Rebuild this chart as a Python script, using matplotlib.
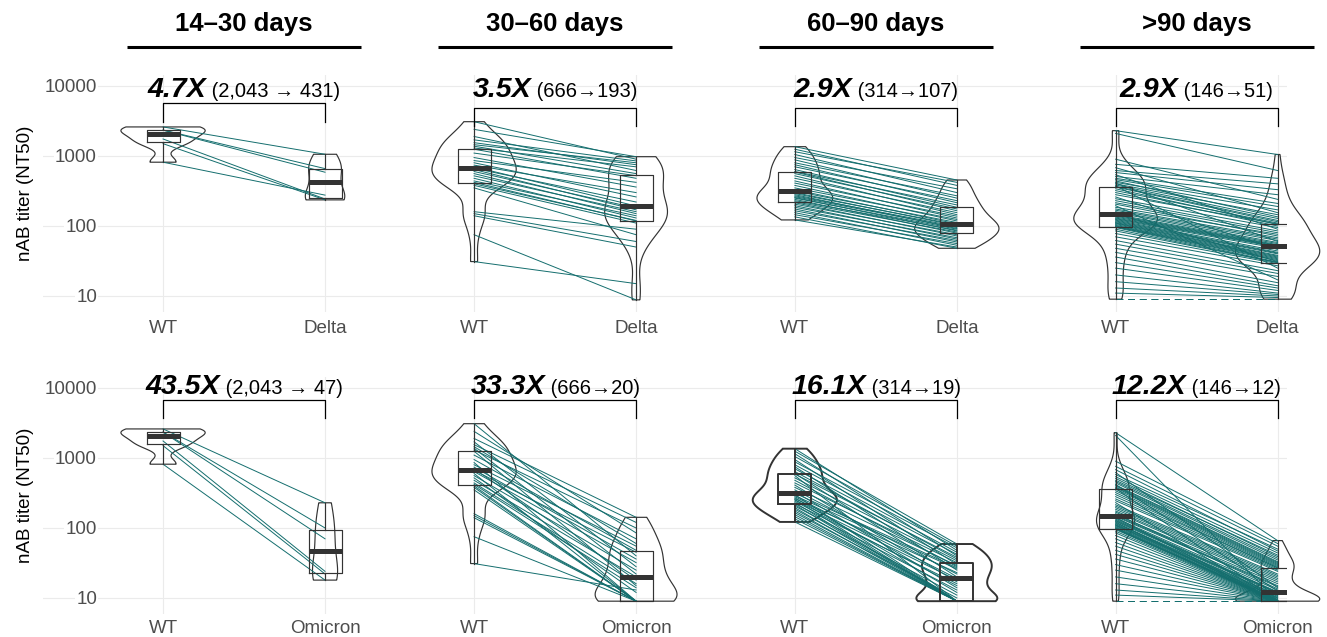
import numpy as np
import matplotlib
matplotlib.use("Agg")
import matplotlib.pyplot as plt
from matplotlib.ticker import NullLocator
from matplotlib.transforms import blended_transform_factory

plt.rcParams['font.family'] = ['Liberation Sans', 'DejaVu Sans']

# ---------------- data: paired NT50 titers, one list entry per subject ----------------
periods = ["14–30 days", "30–60 days", "60–90 days", ">90 days"]
variant_names = ["Delta", "Omicron"]

wt = [
    [2600, 2350, 2336, 1750, 1500, 815],
    [3090, 2400, 1900, 1700, 1550, 1450, 1380, 1300, 1250, 1100, 950, 860, 800, 740, 700, 666,
     640, 600, 560, 520, 480, 440, 420, 400, 380, 350, 160, 150, 140, 75, 31],
    [1358, 1250, 1150, 1050, 950, 880, 800, 750, 700, 640, 600, 590, 560, 520, 480, 440, 410,
     380, 350, 330, 314, 300, 290, 280, 270, 262, 255, 250, 240, 230, 222, 215, 205, 195, 185,
     175, 165, 155, 145, 135, 122],
    [2300, 2100, 900, 760, 680, 620, 580, 540, 510, 480, 460, 440, 420, 410, 400, 385, 375, 368,
     360, 340, 320, 300, 280, 260, 245, 230, 215, 205, 195, 185, 175, 168, 160, 155, 150, 146,
     142, 138, 134, 130, 127, 124, 121, 118, 115, 112, 110, 108, 105, 102, 100, 98, 97, 95, 90,
     85, 78, 70, 62, 55, 48, 42, 36, 30, 25, 20, 16, 13, 11, 9, 9],
]

delta = [
    [1058, 660, 586, 243, 236, 276],
    [900, 977, 620, 850, 750, 800, 560, 700, 480, 524, 360, 420, 260, 300, 193, 220, 170, 180,
     150, 160, 130, 140, 118, 120, 110, 75, 90, 60, 50, 8.8, 15],
    [454, 380, 420, 300, 340, 250, 270, 215, 230, 185, 200, 165, 175, 145, 155, 130, 138, 118,
     124, 107, 112, 101, 104, 92, 98, 95, 85, 90, 79, 87, 82, 72, 75, 65, 68, 59, 62, 53, 56, 48,
     50],
    [1050, 620, 240, 480, 155, 400, 330, 90, 280, 210, 190, 135, 170, 60, 145, 128, 25, 120, 115,
     105, 110, 100, 107, 46, 95, 85, 80, 72, 17, 76, 68, 65, 62, 58, 31, 56, 54, 53, 52, 51, 50,
     48, 44, 42, 41, 40, 38, 37, 36, 35, 34, 33, 32, 30.5, 30, 30, 29, 27, 23, 21, 19, 15.5, 14,
     13, 12, 11, 10.5, 10, 9.5, 9, 9],
]

omicron = [
    [229, 100, 70, 24, 22, 18],
    [40, 85, 142, 28, 120, 60, 22, 100, 15, 70, 48, 9, 55, 36, 18, 45, 32, 9, 25, 12, 20, 16,
     14, 9, 9, 9, 9, 9, 9, 9, 13],
    [48, 59, 40, 55, 30, 52, 45, 25, 42, 36, 20, 38, 9, 34, 28, 32, 17, 29, 22, 14, 27, 9, 26,
     19, 12, 23, 9, 18, 15, 9, 16, 9, 13, 9, 11, 9, 10, 9, 9, 9, 9],
    [66, 9, 60, 55, 47, 14, 50, 44, 39, 41, 37, 35, 12.5, 33, 32, 31, 30, 9, 29, 28, 27, 27, 26,
     25, 24, 9, 22, 21, 20, 19, 18, 17, 13.5, 16, 15, 14.5, 9, 13, 12.2, 12, 11.8, 11.5, 9, 11,
     10.8, 10.5, 10.2, 10, 9.8, 9.5, 9.3, 9.2, 9.1, 9, 9, 9, 9, 9, 9, 9, 9, 9, 9, 9, 9, 9, 9, 9,
     9, 9, 9],
]

fold_delta = ["4.7X", "3.5X", "2.9X", "2.9X"]
fold_omicron = ["43.5X", "33.3X", "16.1X", "12.2X"]
change_delta = ["(2,043 → 431)", "(666→193)", "(314→107)", "(146→51)"]
change_omicron = ["(2,043 → 47)", "(666→20)", "(314→19)", "(146→12)"]

LOD = 9  # detection floor of the assay

# ---------------- layout / style ----------------
W, H, DPI = 1327, 637, 100
TEAL = "#146e6e"
DARK = "#333333"
GRID = "#ebebeb"
TICK = "#4d4d4d"

panel_x = [0.0, 1.92, 3.90, 5.88]      # x of the WT category in each panel
pair_gap = 1.0                         # WT -> variant distance
x_range = (-0.741, 6.938)
y_range = (10 ** 0.771, 10 ** 4.157)
violin_half = 0.26
box_width = 0.204
outline_lw = [[0.85, 0.85, 0.85, 0.85], [0.85, 0.85, 1.4, 0.85]]

bracket = [
    [(5715, 3060), (4845, 2683), (4845, 2683), (4845, 2683)],
    [(6740, 3728), (6740, 3728), (6740, 3728), (6740, 3728)],
]
label_y = [7035, 8210]
row_px = [(75, 312), (377, 614)]       # top / bottom of each row in pixels
FOLD_SIZE, CHANGE_SIZE = 20.5, 14.5


def density(vals):
    """Gaussian KDE on log10 values (bw.nrd0), trimmed to the data range."""
    lv = np.log10(np.asarray(vals, float))
    n = len(lv)
    sd = np.std(lv, ddof=1)
    q75, q25 = np.percentile(lv, [75, 25])
    lo = min(sd, (q75 - q25) / 1.34)
    if lo <= 0:
        lo = sd
    bw = 0.9 * lo * n ** -0.2
    grid = np.linspace(lv.min(), lv.max(), 512)
    d = np.exp(-0.5 * ((grid[:, None] - lv[None, :]) / bw) ** 2).sum(1) / (n * bw * np.sqrt(2 * np.pi))
    return grid, d


fig = plt.figure(figsize=(W / DPI, H / DPI), dpi=DPI)
renderer = fig.canvas.get_renderer()

for r, (variant, fold, change) in enumerate([(delta, fold_delta, change_delta),
                                             (omicron, fold_omicron, change_omicron)]):
    top, bot = row_px[r]
    ax = fig.add_axes([43 / W, (H - bot) / H, (1287 - 43) / W, (bot - top) / H])
    ax.set_yscale("log")
    ax.set_xlim(*x_range)
    ax.set_ylim(*y_range)
    for s in ax.spines.values():
        s.set_visible(False)
    ax.set_axisbelow(True)
    ax.yaxis.set_minor_locator(NullLocator())
    ax.set_yticks([10, 100, 1000, 10000])
    ax.set_yticklabels(["10", "100", "1000", "10000"])
    ax.tick_params(axis="y", length=0, pad=-54 * 72 / DPI, labelsize=13.5, labelcolor=TICK)
    for lbl in ax.get_yticklabels():
        lbl.set_bbox(dict(facecolor="white", edgecolor="none", pad=1))
    xt, xl = [], []
    for p in range(4):
        xt += [panel_x[p], panel_x[p] + pair_gap]
        xl += ["WT", variant_names[r]]
    ax.set_xticks(xt)
    ax.set_xticklabels(xl)
    ax.tick_params(axis="x", length=0, pad=5.5 - r, labelsize=13.5, labelcolor=TICK)
    ax.grid(True, color=GRID, lw=0.8)

    fig.text(25 / W, 1 - (top + bot) / 2 / H, "nAB titer (NT50)", rotation=90,
             ha="center", va="center", fontsize=13.5)

    bt = blended_transform_factory(ax.transData, fig.transFigure)

    for p in range(4):
        x0, x1 = panel_x[p], panel_x[p] + pair_gap
        a, b = wt[p], variant[p][:len(wt[p])]
        lw = outline_lw[r][p]

        # violins, area-scaled within the panel
        g0, d0 = density(a)
        g1, d1 = density(b)
        dmax = max(d0.max(), d1.max())
        for xc, g, d in ((x0, g0, d0), (x1, g1, d1)):
            w = d / dmax * violin_half
            xs = np.concatenate([xc - w, (xc + w)[::-1]])
            ys = 10 ** np.concatenate([g, g[::-1]])
            ax.fill(xs, ys, facecolor="none", edgecolor=DARK, lw=lw, zorder=2, clip_on=False)

        # paired lines
        for va, vb in zip(a, b):
            ls = (0, (7, 5)) if (va <= LOD and vb <= LOD) else "-"
            ax.plot([x0, x1], [va, vb], color=TEAL, lw=0.7, ls=ls, zorder=3)

        # boxes
        ax.boxplot([a, b], positions=[x0, x1], widths=box_width, whis=(0, 100),
                   showcaps=False, showfliers=False, manage_ticks=False, zorder=4,
                   boxprops=dict(color=DARK, lw=lw),
                   whiskerprops=dict(color=DARK, lw=lw),
                   medianprops=dict(color=DARK, lw=3.6, solid_capstyle="butt"))

        # bracket
        yb, yt = bracket[r][p]
        ax.plot([x0, x0, x1, x1], [yt, yb, yb, yt], color="black", lw=0.9, zorder=5,
                clip_on=False)

        # fold-change label, centred over the panel
        mid = (x0 + x1) / 2
        t1 = ax.text(mid, label_y[r], fold[p], fontsize=FOLD_SIZE, fontweight="bold",
                     fontstyle="italic", ha="left", va="baseline")
        t2 = ax.text(mid, label_y[r], " " + change[p], fontsize=CHANGE_SIZE, ha="left",
                     va="baseline")
        w1 = t1.get_window_extent(renderer).width
        w2 = t2.get_window_extent(renderer).width
        t1.remove()
        t2.remove()
        start = -(w1 + w2) / 2
        ax.annotate(fold[p], xy=(mid, label_y[r]), xytext=(start, 0), textcoords="offset pixels",
                    fontsize=FOLD_SIZE, fontweight="bold", fontstyle="italic", ha="left",
                    va="baseline", zorder=6)
        ax.annotate(" " + change[p], xy=(mid, label_y[r]), xytext=(start + w1, 0),
                    textcoords="offset pixels", fontsize=CHANGE_SIZE, ha="left", va="baseline",
                    zorder=6)

        # period header with underline (top row only)
        if r == 0:
            ax.text(mid, 1 - 24 / H, periods[p], transform=bt, ha="center", va="center",
                    fontsize=18.5, fontweight="bold")
            ax.plot([mid - 0.722, mid + 0.722], [1 - 46.5 / H] * 2, transform=bt,
                    color="black", lw=2.2, clip_on=False, solid_capstyle="butt")

fig.savefig("out.png", dpi=DPI)
